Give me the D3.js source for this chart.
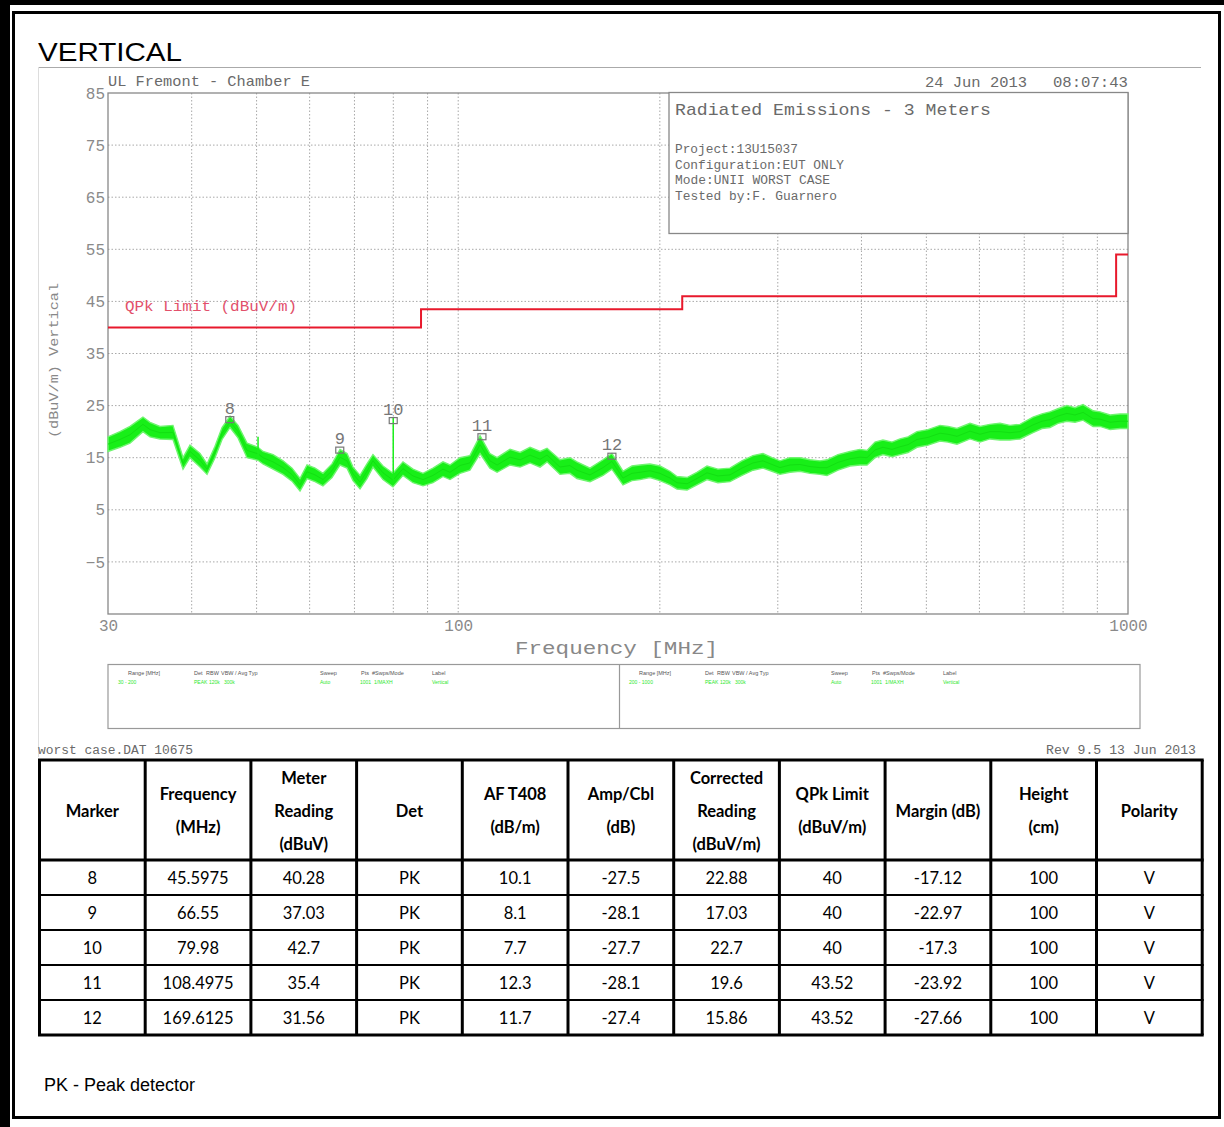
<!DOCTYPE html>
<html><head><meta charset="utf-8">
<script src="https://cdn.jsdelivr.net/npm/d3@7"></script>
<style>html,body{margin:0;padding:0;background:#fff;} svg{display:block;}</style>
</head><body>
<svg id="c" width="1224" height="1127"></svg>
<script>
// ---------- data ----------
const yTicks = [85,75,65,55,45,35,25,15,5,-5,-15];
const yTickLabels = [85,75,65,55,45,35,25,15,5,-5];
const xTickLabels = [30,100,1000];
const xGrid = [40,50,60,70,80,90,100,200,300,400,500,600,700,800,900];
const limitFreq  = [30,88,88,216,216,960,960,1000];
const limitLevel = [40,40,43.5,43.5,46,46,54,54];
const traceFreq = [30,31.26,32.36,33.83,34.66,35.87,37.51,38.83,39.77,41.16,
  42.17,43.34,44.40,45.64,46.91,48.38,50.25,51.12,52.91,54.76,
  56.48,58.05,59.47,61.13,62.82,64.80,66.61,68.23,69.65,71.35,
  73.08,74.60,77.21,79.91,82.71,85.60,88.60,91.70,94.90,97.21,
  100.6,104.1,107.8,111.5,114.3,119.5,123.7,128.0,132.5,135.7,
  141.9,146.8,150.4,157.3,164.5,169.6,176.2,181.7,186.8,193.3,
  200.1,207.1,212.1,219.6,227.2,235.2,244.2,254.5,265.2,275.5,
  285.1,294.1,302.3,312.8,323.8,335.1,346.8,355.3,369.0,384.6,
  398.0,407.7,419.1,430.7,444.3,456.7,469.4,484.1,502.8,524.0,
  538.6,555.5,580.9,601.2,622.2,644.0,666.5,689.9,721.4,744.0,
  764.7,786.0,810.7,833.5,856.8,886.9,908.5,940.3,973.3,1000];
const traceLo = [16.2,17.0,17.8,20.0,19.0,18.6,18.5,12.8,15.0,13.2,
  11.8,15.0,18.5,20.8,18.8,15.0,14.5,13.8,12.8,11.8,
  10.5,8.6,11.0,10.4,9.6,11.2,13.6,13.0,10.6,9.0,
  11.0,13.2,10.8,9.4,11.6,10.2,9.6,10.2,11.4,10.8,
  12.0,12.6,15.8,13.0,12.2,13.6,13.2,14.0,13.2,14.2,
  11.8,12.0,11.0,10.4,11.6,12.8,9.8,10.6,10.8,11.2,
  10.6,9.8,9.0,8.8,9.8,10.8,10.2,10.4,11.6,12.6,
  13.0,12.4,11.8,12.2,12.4,12.0,11.8,11.6,12.6,13.4,
  13.6,13.6,15.0,15.6,15.2,15.6,16.0,17.0,17.4,18.2,
  18.0,17.6,18.6,18.0,18.6,18.4,18.4,18.6,19.8,20.6,
  20.8,21.6,22.0,21.8,22.2,21.0,21.0,20.4,20.6,20.6];
const traceHi = [19.0,20.0,21.0,22.8,21.8,21.0,21.2,15.0,17.4,15.8,
  13.8,17.2,20.8,23.0,21.2,17.8,17.0,16.2,15.6,14.4,
  13.0,11.0,13.6,13.0,12.0,13.8,16.6,15.8,13.2,11.6,
  13.8,15.6,13.4,12.0,14.2,12.8,12.0,13.0,14.2,13.6,
  15.0,15.4,19.2,15.8,15.0,16.6,16.0,17.0,16.2,16.8,
  14.6,15.0,14.2,13.0,14.6,15.8,12.4,13.4,13.6,13.8,
  13.4,12.4,11.4,11.2,12.2,13.4,12.8,13.0,14.4,15.4,
  15.8,15.0,14.4,15.0,15.0,14.6,14.4,14.6,15.6,16.2,
  16.6,16.4,18.0,18.4,18.0,18.6,19.0,20.0,20.4,21.2,
  21.0,20.6,21.6,21.0,21.4,21.6,21.2,21.4,22.8,23.4,
  23.8,24.4,25.0,24.6,25.2,24.0,23.8,23.2,23.4,23.4];
const spikeFreq = [50.25, 79.98];
const spikeBase = [15.5, 10.5];
const spikeTop  = [19.0, 22.7];

const markerIds   = [8,9,10,11,12];
const markerFreq  = [45.5975,66.55,79.98,108.4975,169.6125];
const meterRead   = [40.28,37.03,42.7,35.4,31.56];
const detector    = ["PK","PK","PK","PK","PK"];
const antFactor   = [10.1,8.1,7.7,12.3,11.7];
const ampCbl      = [-27.5,-28.1,-27.7,-28.1,-27.4];
const corrected   = [22.88,17.03,22.7,19.6,15.86];
const qpkLimit    = [40,40,40,43.52,43.52];
const margin      = [-17.12,-22.97,-17.3,-23.92,-27.66];
const heightCm    = [100,100,100,100,100];
const polarity    = ["V","V","V","V","V"];
const tableHeaders = [["Marker"],["Frequency","(MHz)"],["Meter","Reading","(dBuV)"],["Det"],
  ["AF T408","(dB/m)"],["Amp/Cbl","(dB)"],["Corrected","Reading","(dBuV/m)"],
  ["QPk Limit","(dBuV/m)"],["Margin (dB)"],["Height","(cm)"],["Polarity"]];
const infoHeads = ["Range [MHz]","Det","RBW","VBW / Avg Typ","Sweep","Pts","#Swps/Mode","Label"];
const infoLeft  = ["30 - 200","PEAK","120k","300k","Auto","1001","1/MAXH","Vertical"];
const infoRight = ["200 - 1000","PEAK","120k","300k","Auto","1001","1/MAXH","Vertical"];

// ---------- drawing ----------
const svg = d3.select("#c");
const mono = "'Liberation Mono', 'DejaVu Sans Mono', monospace";
const penGray = "#6a6a6a";

// outer document frame
svg.append("rect").attr("x",0).attr("y",0).attr("width",10).attr("height",1127).attr("fill","#000");
svg.append("rect").attr("x",0).attr("y",0).attr("width",1224).attr("height",5).attr("fill","#000");
svg.append("rect").attr("x",13.5).attr("y",12.5).attr("width",1206).attr("height",1105)
  .attr("fill","none").attr("stroke","#000").attr("stroke-width",3);

// title
svg.append("text").attr("x",38).attr("y",61).text("VERTICAL")
  .attr("font-family","'Liberation Sans', Arial, sans-serif").attr("font-size",25)
  .attr("textLength",144).attr("lengthAdjust","spacingAndGlyphs").attr("fill","#000");

// plot image border
svg.append("line").attr("x1",38).attr("x2",1201).attr("y1",67.5).attr("y2",67.5).attr("stroke","#aaa");
svg.append("line").attr("x1",38.5).attr("x2",38.5).attr("y1",67).attr("y2",757).attr("stroke","#ddd");

const x = d3.scaleLog().domain([30,1000]).range([108,1128]);
const y = d3.scaleLinear().domain([-15,85]).range([614,93]);

function ptext(px,py,str,size,opt={}) {
  const t = svg.append("text").attr("x",px).attr("y",py).text(str)
    .attr("font-family",mono).attr("font-size",size).attr("fill",opt.fill||penGray)
    .attr("text-anchor",opt.anchor||"start");
  if (opt.len) t.attr("textLength",opt.len).attr("lengthAdjust","spacingAndGlyphs");
  if (opt.rot) t.attr("transform",`rotate(${opt.rot},${px},${py})`);
  return t;
}

// grid
const g = svg.append("g");
g.selectAll("line.hg").data(yTicks.filter(v=>v<85&&v>-15)).join("line")
  .attr("x1",108).attr("x2",1128).attr("y1",d=>y(d)).attr("y2",d=>y(d))
  .attr("stroke","#a8a8a8").attr("stroke-width",1).attr("stroke-dasharray","1.5,2");
g.selectAll("line.vg").data(xGrid).join("line")
  .attr("x1",d=>x(d)).attr("x2",d=>x(d)).attr("y1",93).attr("y2",614)
  .attr("stroke","#a8a8a8").attr("stroke-width",1).attr("stroke-dasharray","1.5,2");

// axes via d3
const yAxis = d3.axisLeft(y).tickValues(yTickLabels).tickSize(0).tickPadding(3);
const ya = svg.append("g").attr("transform","translate(108,0)").call(yAxis);
ya.select(".domain").remove();
ya.selectAll("text").attr("font-family",mono).attr("font-size",16).attr("fill","#8a8a8a");

const xAxis = d3.axisBottom(x).tickValues(xTickLabels).tickFormat(d3.format("d")).tickSize(0).tickPadding(6);
const xa = svg.append("g").attr("transform","translate(0,614)").call(xAxis);
xa.select(".domain").remove();
xa.selectAll("text").attr("font-family",mono).attr("font-size",16).attr("fill","#8a8a8a");

// frame
svg.append("rect").attr("x",108).attr("y",93).attr("width",1020).attr("height",521)
  .attr("fill","none").attr("stroke","#888").attr("stroke-width",1.3);

// texts in plot
ptext(108,86,"UL Fremont - Chamber E",15,{len:202});
ptext(925,87,"24 Jun 2013",15,{len:102});
ptext(1053,87,"08:07:43",15,{len:75});
ptext(58,438,"(dBuV/m) Vertical",13,{len:155,rot:-90,fill:"#888"});
ptext(515,654,"Frequency [MHz]",18,{len:203,fill:"#888"});

// info box in upper right
svg.append("rect").attr("x",669).attr("y",92.5).attr("width",459).attr("height",141)
  .attr("fill","#fff").attr("stroke","#888").attr("stroke-width",1.3);
ptext(675,115,"Radiated Emissions - 3 Meters",17,{len:316});
ptext(675,153,"Project:13U15037",12.5,{len:123});
ptext(675,169,"Configuration:EUT ONLY",12.5,{len:169});
ptext(675,184,"Mode:UNII WORST CASE",12.5,{len:155});
ptext(675,200,"Tested by:F. Guarnero",12.5,{len:162});

// limit line
const lim = limitFreq.map((f,i)=>[f,limitLevel[i]]);
svg.append("path").datum(lim)
  .attr("d",d3.line().x(d=>x(d[0])).y(d=>y(d[1])))
  .attr("fill","none").attr("stroke","#e8192c").attr("stroke-width",2);
ptext(125,311,"QPk Limit (dBuV/m)",14,{len:172,fill:"#e2506a"});

// trace
const tr = traceFreq.map((f,i)=>({f,lo:traceLo[i],hi:traceHi[i]}));
svg.append("path").datum(tr)
  .attr("d",d3.area().x(d=>x(d.f)).y0(d=>y(d.lo)).y1(d=>y(d.hi)))
  .attr("fill","#18ef18").attr("stroke","#6ff56f").attr("stroke-width",1.4);
svg.append("path").datum(tr)
  .attr("d",d3.line().x(d=>x(d.f)).y(d=>y((d.lo+d.hi)/2)))
  .attr("fill","none").attr("stroke","#12e012").attr("stroke-width",1);
svg.selectAll("line.spike").data(spikeFreq).join("line")
  .attr("x1",d=>x(d)).attr("x2",d=>x(d))
  .attr("y1",(d,i)=>y(spikeBase[i])).attr("y2",(d,i)=>y(spikeTop[i]))
  .attr("stroke","#1bef1b").attr("stroke-width",1.5);

// markers
const mk = markerIds.map((id,i)=>({id,f:markerFreq[i],v:corrected[i]}));
svg.selectAll("rect.mk").data(mk).join("rect")
  .attr("x",d=>x(d.f)-4).attr("y",d=>y(d.v)).attr("width",8).attr("height",6)
  .attr("fill","none").attr("stroke","#777").attr("stroke-width",1.2);
svg.selectAll("text.mk").data(mk).join("text")
  .attr("x",d=>x(d.f)).attr("y",d=>y(d.v)-3).attr("text-anchor","middle")
  .attr("font-family",mono).attr("font-size",17).attr("fill","#777")
  .text(d=>d.id);

// bottom settings box
svg.append("rect").attr("x",108).attr("y",664.5).attr("width",1032).attr("height",64)
  .attr("fill","none").attr("stroke","#999").attr("stroke-width",1.2);
svg.append("line").attr("x1",619.5).attr("x2",619.5).attr("y1",664).attr("y2",729).attr("stroke","#999").attr("stroke-width",1.2);
const infoOff  = [20,86,98,113,212,253,264,324];
const valOff   = [10,86,101,116,212,252,266,324];
[[108,infoLeft],[619,infoRight]].forEach(([bx,vals])=>{
  infoHeads.forEach((h,i)=>{
    svg.append("text").attr("x",bx+infoOff[i]).attr("y",675).text(h)
      .attr("font-family","'Liberation Sans',sans-serif").attr("font-size",5.5).attr("fill","#555");
    svg.append("text").attr("x",bx+valOff[i]).attr("y",684).text(vals[i])
      .attr("font-family","'Liberation Sans',sans-serif").attr("font-size",5).attr("fill","#2ee82e");
  });
});

ptext(38,754,"worst case.DAT 10675",12.5,{len:155});
ptext(1046,754,"Rev 9.5 13 Jun 2013",12.5,{len:150});

// ---------- table ----------
const tx0 = 39.5, colW = 105.7, ty0 = 760, headH = 100, rowH = 35;
const nCols = tableHeaders.length, nRows = markerIds.length;
const colX = d3.range(nCols+1).map(i=>tx0+i*colW);
const rowY = [ty0, ty0+headH].concat(d3.range(1,nRows+1).map(i=>ty0+headH+i*rowH));
const tb = svg.append("g");
tb.selectAll("line.v").data(colX).join("line")
  .attr("x1",d=>d).attr("x2",d=>d).attr("y1",ty0).attr("y2",rowY[rowY.length-1])
  .attr("stroke","#000").attr("stroke-width",3);
tb.selectAll("line.h").data(rowY).join("line")
  .attr("x1",tx0-1.5).attr("x2",colX[nCols]+1.5).attr("y1",d=>d).attr("y2",d=>d)
  .attr("stroke","#000").attr("stroke-width",(d,i)=>(i===0||i===1||i===rowY.length-1)?3:2);
const tFont = "Lato, 'Open Sans', sans-serif";
tableHeaders.forEach((lines,c)=>{
  const cx = colX[c]+colW/2, cy = ty0+headH/2+1;
  lines.forEach((ln,k)=>{
    tb.append("text").attr("x",cx).attr("y",cy+(k-(lines.length-1)/2)*33).attr("dy","0.35em")
      .attr("text-anchor","middle").attr("font-family",tFont).attr("font-weight","bold")
      .attr("font-size",16.5).attr("fill","#000").text(ln);
  });
});
const cols = [markerIds,markerFreq,meterRead,detector,antFactor,ampCbl,corrected,qpkLimit,margin,heightCm,polarity];
markerIds.forEach((m,r)=>{
  cols.forEach((col,c)=>{
    tb.append("text").attr("x",colX[c]+colW/2).attr("y",rowY[r+1]+rowH/2+1).attr("dy","0.35em")
      .attr("text-anchor","middle").attr("font-family",tFont).attr("font-size",16.5)
      .attr("fill","#000").text(col[r]);
  });
});

svg.append("text").attr("x",44).attr("y",1091).text("PK - Peak detector")
  .attr("font-family","'Liberation Sans', Arial, sans-serif").attr("font-size",18).attr("fill","#000");
</script>
</body></html>
